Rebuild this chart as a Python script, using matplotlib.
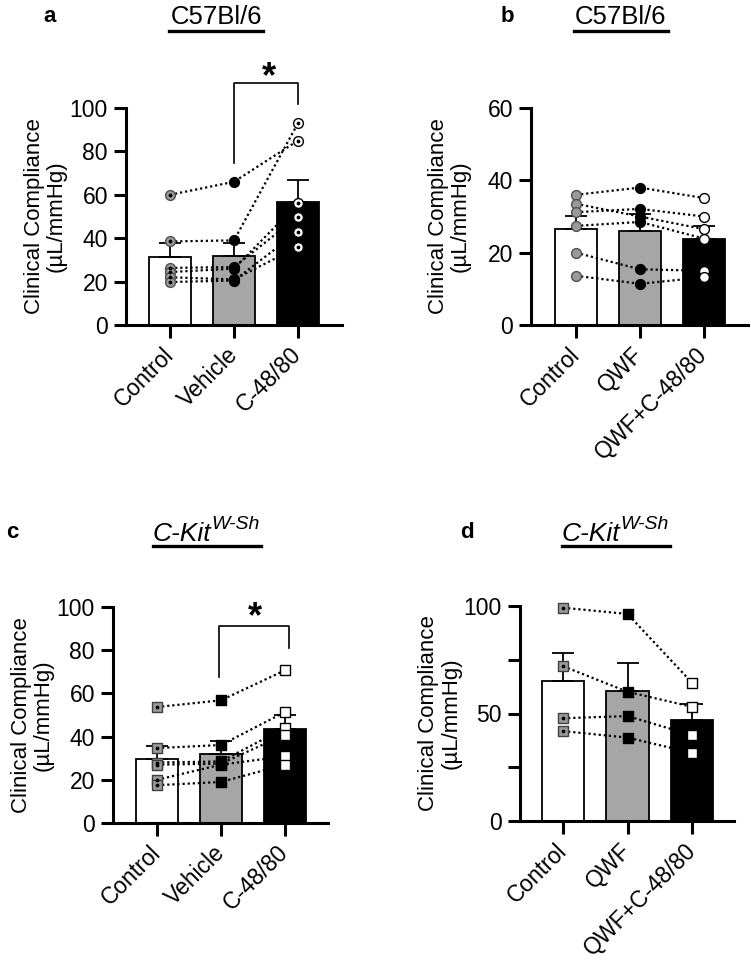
import numpy as np
import matplotlib
matplotlib.use('Agg')
import matplotlib.pyplot as plt
from matplotlib.lines import Line2D

plt.rcParams['font.family'] = ['Liberation Sans', 'DejaVu Sans']

# panel a: C57Bl/6, compound 48/80
a_groups = ['Control', 'Vehicle', 'C-48/80']
a_ctrl = [60, 38.5, 26.3, 24.4, 22, 19.8]
a_veh = [66, 39, 26.7, 26, 21, 20.5]
a_c48 = [85, 93, 50, 56, 36, 43]
a_means = [31.5, 32, 56.5]
a_err_top = [37.8, 37.8, 67]

# panel b: C57Bl/6, QWF
b_groups = ['Control', 'QWF', 'QWF+C-48/80']
b_ctrl = [36, 33.5, 31.2, 27.4, 20, 13.6]
b_qwf = [38, 30, 32.1, 28.5, 15.4, 11.4]
b_qc = [35.1, 26.5, 30, 23.9, 15, 13.2]
b_means = [26.6, 25.9, 23.9]
b_err_top = [30.2, 30.6, 27.4]

# panel c: C-Kit W-Sh, compound 48/80
c_groups = ['Control', 'Vehicle', 'C-48/80']
c_ctrl = [53.7, 34.7, 28, 27, 20, 17.5]
c_veh = [56.8, 36.1, 28.5, 27.5, 27, 19]
c_c48 = [70.7, 51.4, 44, 40.9, 30.9, 27]
c_means = [29.6, 32.1, 43.7]
c_err_top = [35.5, 38.1, 50.2]

# panel d: C-Kit W-Sh, QWF
d_groups = ['Control', 'QWF', 'QWF+C-48/80']
d_ctrl = [99.2, 72, 47.8, 41.8]
d_qwf = [96.3, 60.1, 48.8, 38.8]
d_qc = [64.3, 53.1, 39.9, 31.7]
d_means = [65, 60.6, 46.9]
d_err_top = [78.3, 73.3, 54.3]

bar_colors = ['white', '#a6a6a6', 'black']
ylab = 'Clinical Compliance\n(µL/mmHg)'

# marker, face, edge, center dot
circ_a = [('o', '#9a9a9a', '#505050', True), ('o', 'black', 'black', False), ('o', 'white', 'black', True)]
circ_b = [('o', '#9a9a9a', '#505050', False), ('o', 'black', 'black', False), ('o', 'white', 'black', False)]
sq = [('s', '#9a9a9a', '#404040', True), ('s', 'black', 'black', False), ('s', 'white', 'black', False)]

fig = plt.figure(figsize=(7.51, 9.66), dpi=100)
W, H = 751.0, 966.0


def add_ax(left, top, right, bottom):
    return fig.add_axes([left / W, 1 - bottom / H, (right - left) / W, (bottom - top) / H])


def draw_panel(ax, groups, series, means, err_top, ymax, yticks, ylabels, xlim, styles, msize):
    x = np.arange(len(groups))
    ax.bar(x, means, width=0.66, color=bar_colors, edgecolor='black', linewidth=1.3, zorder=1)
    up = np.array(err_top) - np.array(means)
    ax.errorbar(x, means, yerr=[np.zeros(len(x)), up], fmt='none', ecolor='black',
                elinewidth=1.3, capsize=8, capthick=1.3, zorder=2)
    vals = np.array(series)
    for j in range(vals.shape[1]):
        ax.plot(x, vals[:, j], color='black', lw=1.6, ls=(0, (1, 1.3)), zorder=3)
    for i, (mk, fc, ec, dot) in enumerate(styles):
        xs = np.full(vals.shape[1], i)
        ax.scatter(xs, vals[i], marker=mk, s=msize, facecolor=fc, edgecolor=ec, linewidth=1.0,
                   zorder=4, clip_on=False)
        if dot:
            ax.scatter(xs, vals[i], marker='o', s=3, color='black', zorder=5, clip_on=False)
    ax.set_xlim(xlim)
    ax.set_ylim(0, ymax)
    ax.set_yticks(yticks)
    ax.set_yticklabels(ylabels)
    ax.set_xticks(x)
    ax.set_xticklabels(groups, rotation=45, ha='right', va='center', rotation_mode='anchor')
    for s in ['top', 'right']:
        ax.spines[s].set_visible(False)
    for s in ['left', 'bottom']:
        ax.spines[s].set_linewidth(2.2)
    ax.tick_params(width=2.2, length=9, labelsize=16.5, pad=4)
    ax.tick_params(axis='x', pad=10)
    ax.text(-0.375, 0.5, ylab, rotation=90, ha='center', va='center', fontsize=16,
            linespacing=1.05, transform=ax.transAxes, multialignment='center')


def bracket(ax, x1, x2, ytop, yl, yr, xs, ys):
    ax.plot([x1, x1, x2, x2], [yl, ytop, ytop, yr], color='black', lw=1.2, clip_on=False)
    ax.text(xs, ys, '*', fontsize=26, fontweight='bold', ha='center', va='center', clip_on=False)


axa = add_ax(126, 108, 342, 325)
draw_panel(axa, a_groups, [a_ctrl, a_veh, a_c48], a_means, a_err_top, 100,
           [0, 20, 40, 60, 80, 100], ['0', '20', '40', '60', '80', '100'],
           (-0.6875, 2.6875), circ_a, 50)
bracket(axa, 1, 2, 111.5, 74.6, 102, 1.55, 114)

axb = add_ax(531, 108, 748, 325)
draw_panel(axb, b_groups, [b_ctrl, b_qwf, b_qc], b_means, b_err_top, 60,
           [0, 20, 40, 60], ['0', '20', '40', '60'],
           (-0.703, 2.688), circ_b, 50)

axc = add_ax(113, 607, 328, 823)
draw_panel(axc, c_groups, [c_ctrl, c_veh, c_c48], c_means, c_err_top, 100,
           [0, 20, 40, 60, 80, 100], ['0', '20', '40', '60', '80', '100'],
           (-0.6875, 2.672), sq, 42)
bracket(axc, 0.97, 2.06, 91, 67.6, 81, 1.53, 95)

axd = add_ax(520, 606, 734, 821)
draw_panel(axd, d_groups, [d_ctrl, d_qwf, d_qc], d_means, d_err_top, 100,
           [0, 25, 50, 75, 100], ['0', '', '50', '', '100'],
           (-0.667, 2.65), sq, 42)

# panel letters
for lx, ly, lt in [(50, 17, 'a'), (507, 17, 'b'), (12, 532, 'c'), (467, 532, 'd')]:
    fig.text(lx / W, 1 - ly / H, lt, fontsize=16, fontweight='bold', ha='center', va='center')

# strain titles
for cx in [216, 621]:
    fig.text(cx / W, 1 - 17 / H, 'C57Bl/6', fontsize=18.5, ha='center', va='center')
    fig.add_artist(Line2D([(cx - 47) / W, (cx + 47) / W], [1 - 31 / H, 1 - 31 / H],
                          color='black', lw=2.4))

for lx in [153, 562]:
    fig.text(lx / W, 1 - 541 / H, 'C-Kit', fontsize=19, style='italic', ha='left', va='baseline')
    fig.text((lx + 58) / W, 1 - 529 / H, 'W-Sh', fontsize=14, style='italic', ha='left', va='baseline')
    fig.add_artist(Line2D([lx / W, (lx + 108) / W], [1 - 546 / H, 1 - 546 / H],
                          color='black', lw=2.4))

fig.savefig('out.png', dpi=100)
